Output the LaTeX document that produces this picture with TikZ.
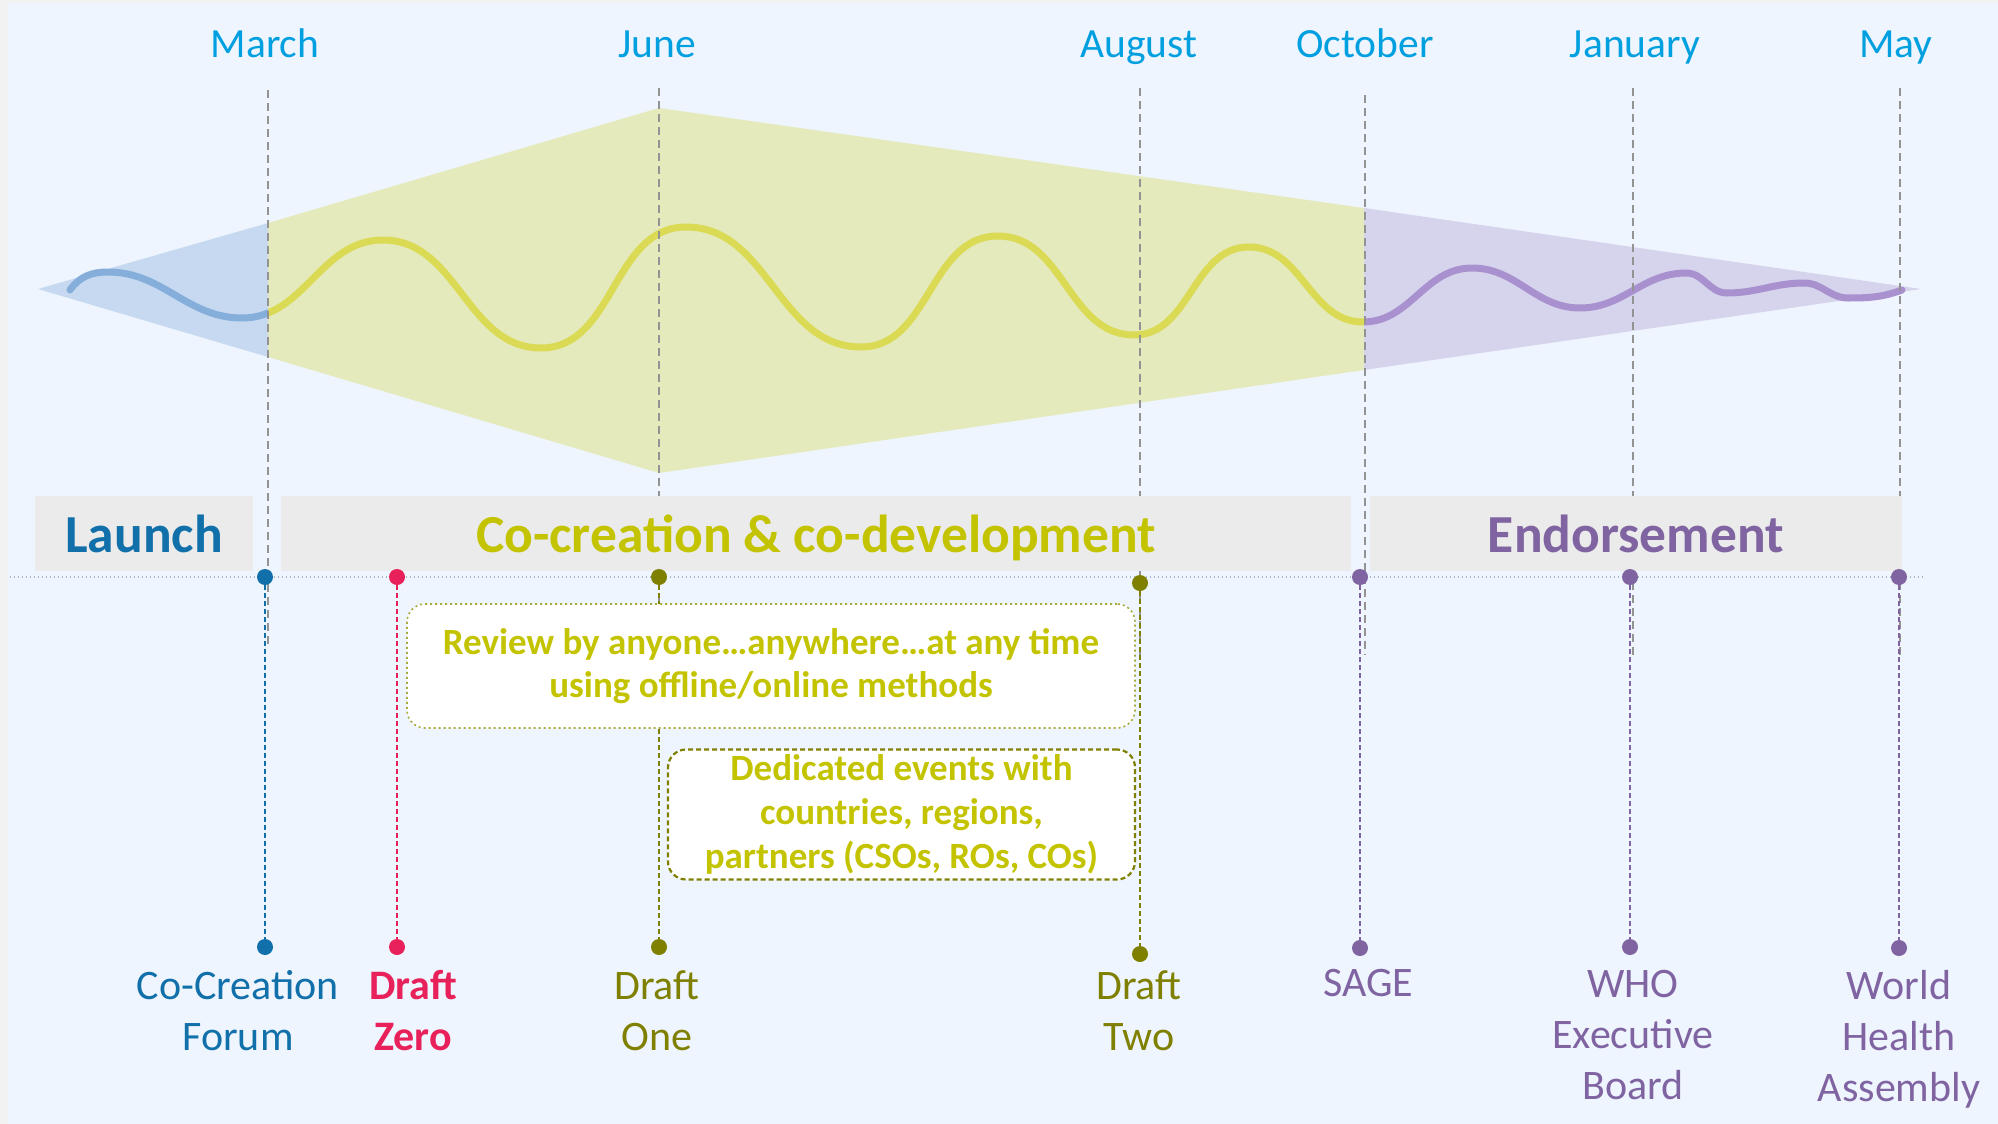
\documentclass[tikz,border=0pt]{standalone}
\usepackage{fontspec}
\setmainfont{Carlito}
\usepackage{tikz}

\definecolor{monthblue}{HTML}{00A0E0}
\definecolor{launchblue}{HTML}{1170AA}
\definecolor{cocyellow}{HTML}{C3C300}
\definecolor{endpurple}{HTML}{8064A2}
\definecolor{draftred}{HTML}{E8215A}
\definecolor{draftolive}{HTML}{808000}
\definecolor{bgblue}{HTML}{EEF5FE}
\definecolor{bggray}{HTML}{F2F2F2}
\definecolor{boxgray}{HTML}{EBEBEB}
\definecolor{fillblue}{HTML}{C6D9F0}
\definecolor{fillyellow}{HTML}{E5EABD}
\definecolor{fillpurple}{HTML}{D6D3EC}
\definecolor{waveblue}{HTML}{86AEDB}
\definecolor{waveyellow}{HTML}{DADA55}
\definecolor{wavepurple}{HTML}{A991CF}
\definecolor{lineolive}{HTML}{A9A93C}
\definecolor{tlgray}{HTML}{A7B3C4}

\tikzstyle{month}=[text=monthblue, anchor=base, inner sep=0pt, font=\fontsize{41.5}{51}\selectfont]
\tikzstyle{mline}=[draw=gray!85, line width=1.5pt, dash pattern=on 8pt off 5pt]
\tikzstyle{wv}=[line width=7pt, line cap=round]
\tikzstyle{phase}=[fill=boxgray, minimum height=75pt, text height=38pt, text depth=0pt, inner sep=0pt, font=\fontsize{53.5}{60}\selectfont\bfseries]
\tikzstyle{dot}=[circle, inner sep=0pt, minimum size=16pt]
\tikzstyle{conn}=[line width=1.5pt, dash pattern=on 5pt off 3pt]
\tikzstyle{callout}=[fill=white, rounded corners=18pt, align=center, inner sep=0pt, text=cocyellow]
\tikzstyle{evlabel}=[anchor=north, align=center, inner sep=0pt, font=\fontsize{42}{51}\selectfont, execute at begin node=\strut]

\newcommand{\wavepath}{(70,290) to[out=55,in=180] (108,272) to[out=0,in=180] (242,318)
  to[out=0,in=180] (383,240) to[out=0,in=180] (541,348) to[out=0,in=180] (686,227)
  to[out=0,in=180] (861,347) to[out=0,in=180] (998,236) to[out=0,in=180] (1134,335)
  to[out=0,in=180] (1249,247) to[out=0,in=180] (1363,322) to[out=0,in=180] (1472,268)
  to[out=0,in=180] (1580,308) to[out=0,in=180] (1686,273) to[out=0,in=180] (1727,293)
  to[out=0,in=180] (1804,283) to[out=0,in=180] (1848,298) to[out=0,in=200] (1902,290)}

\begin{document}
\begin{tikzpicture}[x=1pt, y=-1pt]
  \useasboundingbox (0,0) rectangle (1998,1124);
  \fill[bggray] (0,0) rectangle (1998,1124);
  \fill[bgblue] (8,3) rectangle (1998,1124);

  % phases as funnels
  \fill[fillblue] (38,289) -- (268,223) -- (268,357) -- cycle;
  \fill[fillyellow] (268,223) -- (659,108) -- (1364,208) -- (1364,370) -- (659,473) -- (268,357) -- cycle;
  \fill[fillpurple] (1364,208) -- (1921,289) -- (1364,370) -- cycle;

  \begin{scope}
    \clip (0,0) rectangle (268,1124);
    \draw[wv, waveblue] \wavepath;
  \end{scope}
  \begin{scope}
    \clip (268,0) rectangle (1364,1124);
    \draw[wv, waveyellow] \wavepath;
  \end{scope}
  \begin{scope}
    \clip (1364,0) rectangle (1998,1124);
    \draw[wv, wavepurple] \wavepath;
  \end{scope}

  % months
  \node[month] (march) at (265,58) {March};
  \node[month] (june) at (657,58) {June};
  \node[month] (august) at (1139,58) {August};
  \node[month] (october) at (1365,58) {October};
  \node[month] (january) at (1635,58) {January};
  \node[month] (may) at (1896,58) {May};

  \coordinate (marchtop) at (268,90);   \coordinate (marchbot) at (268,645);
  \coordinate (junetop) at (659,88);    \coordinate (junebot) at (659,645);
  \coordinate (augusttop) at (1140,88); \coordinate (augustbot) at (1140,655);
  \coordinate (octobertop) at (1365,95); \coordinate (octoberbot) at (1365,655);
  \coordinate (januarytop) at (1633,88); \coordinate (januarybot) at (1633,655);
  \coordinate (maytop) at (1900,88);    \coordinate (maybot) at (1900,655);
  \draw[mline] (marchtop) -- (marchbot);
  \draw[mline] (junetop) -- (junebot);
  \draw[mline] (augusttop) -- (augustbot);
  \draw[mline] (octobertop) -- (octoberbot);
  \draw[mline] (januarytop) -- (januarybot);
  \draw[mline] (maytop) -- (maybot);

  % phase bar
  \node[phase, minimum width=218pt, text=launchblue] (launch) at (144,533.5) {Launch};
  \node[phase, minimum width=1070pt, text=cocyellow] (cocreation) at (816,533.5) {Co-creation \& co-development};
  \node[phase, minimum width=532pt, text=endpurple] (endorse) at (1636,533.5) {Endorsement};

  \coordinate (tlstart) at (10,577);
  \coordinate (tlend) at (1925,577);
  \draw[draw=tlgray, line width=1.5pt, dash pattern=on 1pt off 3pt] (tlstart) -- (tlend);

  % milestones
  \node[dot, fill=launchblue] (forumtop) at (265,577) {};
  \node[dot, fill=launchblue] (forumbot) at (265,947) {};
  \node[dot, fill=draftred] (zerotop) at (397,577) {};
  \node[dot, fill=draftred] (zerobot) at (397,947) {};
  \node[dot, fill=draftolive] (onetop) at (659,577) {};
  \node[dot, fill=draftolive] (onebot) at (659,947) {};
  \node[dot, fill=draftolive] (twotop) at (1140,583) {};
  \node[dot, fill=draftolive] (twobot) at (1140,954) {};
  \node[dot, fill=endpurple] (sagetop) at (1360,577) {};
  \node[dot, fill=endpurple] (sagebot) at (1360,948) {};
  \node[dot, fill=endpurple] (whotop) at (1630,577) {};
  \node[dot, fill=endpurple] (whobot) at (1630,947) {};
  \node[dot, fill=endpurple] (whatop) at (1899,577) {};
  \node[dot, fill=endpurple] (whabot) at (1899,948) {};

  \draw[conn, launchblue] (forumtop) -- (forumbot);
  \draw[conn, draftred] (zerotop) -- (zerobot);
  \draw[conn, draftolive] (onetop) -- (onebot);
  \draw[conn, draftolive] (twotop) -- (twobot);
  \draw[conn, endpurple] (sagetop) -- (sagebot);
  \draw[conn, endpurple] (whotop) -- (whobot);
  \draw[conn, endpurple] (whatop) -- (whabot);

  % review boxes
  \node[callout, draw=lineolive, line width=1.6pt, dash pattern=on 2pt off 3pt,
        minimum width=728pt, minimum height=124pt, font=\fontsize{37}{43}\selectfont\bfseries] (review) at (771,666)
        {Review by anyone…anywhere…at any time\\using offline/online methods};
  \node[callout, draw=draftolive, line width=2.2pt, dash pattern=on 5pt off 3pt,
        minimum width=467pt, minimum height=130pt, font=\fontsize{37}{44}\selectfont\bfseries] (events) at (901.5,814.5)
        {Dedicated events with\\countries, regions,\\partners (CSOs, ROs, COs)};

  \node[evlabel, text=launchblue] (forumlbl) at (238,970) {Co-Creation\\Forum};
  \node[evlabel, text=draftred, font=\fontsize{42}{51}\selectfont\bfseries] (zerolbl) at (413,970) {Draft\\Zero};
  \node[evlabel, text=draftolive] (onelbl) at (657,970) {Draft\\One};
  \node[evlabel, text=draftolive] (twolbl) at (1139,970) {Draft\\Two};
  \node[evlabel, text=endpurple] (sagelbl) at (1368,961) {SAGE};
  \node[evlabel, text=endpurple] (wholbl) at (1633,970) {WHO\\Executive\\Board};
  \node[evlabel, text=endpurple] (whalbl) at (1899,970) {World\\Health\\Assembly};
\end{tikzpicture}
\end{document}
